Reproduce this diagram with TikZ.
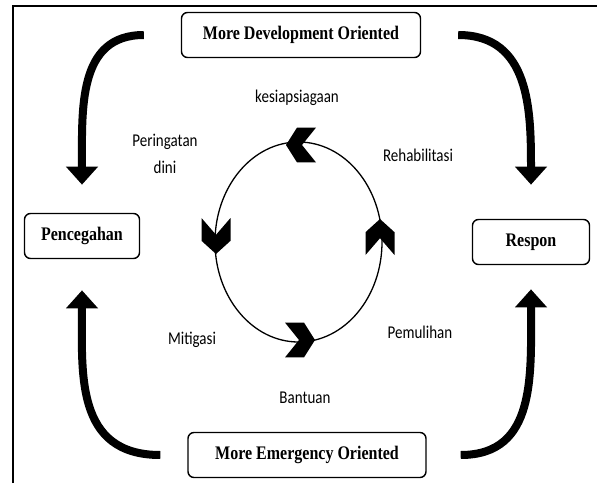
\documentclass[tikz,border=0pt]{standalone}
\usepackage{fontspec}
\setmainfont{Liberation Serif}
\newfontfamily\labelfont{Carlito}
\usetikzlibrary{arrows.meta}
\tikzstyle{phasebox}=[draw, line width=1.4pt, rounded corners=6pt, inner sep=0, yscale=1.2,
                      minimum height=37.5pt, font=\bfseries\fontsize{16}{18}\selectfont]
\tikzstyle{phaselabel}=[inner sep=0, align=center, yscale=1.2, font=\labelfont\fontsize{15}{22.5}\selectfont]
\tikzstyle{cyclearrow}=[line width=8pt, looseness=1.3, -{Triangle[width=31pt,length=18pt]}]
\tikzset{chevron/.pic={\fill (-15,0) -- (-4,-14.5) -- (15,-14.5) -- (1,0) -- (15,14.5) -- (-4,14.5) -- cycle;}}

\begin{document}
\begin{tikzpicture}[x=1pt, y=1pt]
        \useasboundingbox (0,0) rectangle (597,483);
        % frame
        \draw[line width=1.5pt] (13,0) -- (13,477) -- (597,477);
        \node[phasebox, minimum width=239pt] (dev)  at (301,448) {More Development Oriented};
        \node[phasebox, minimum width=238pt] (emg)  at (307,28)  {More Emergency Oriented};
        \node[phasebox, minimum width=115pt] (pen)  at (82,247)  {Pencegahan};
        \node[phasebox, minimum width=117pt] (resp) at (531,241) {Respon};
        \node[phaselabel] (kesiap) at (297,385)   {kesiapsiagaan};
        \node[phaselabel] (dini)   at (165,329.5) {Peringatan\\dini};
        \node[phaselabel] (rehab)  at (418,328)   {Rehabilitasi};
        \node[phaselabel] (miti)   at (192,143)   {Mitigasi};
        \node[phaselabel] (pemul)  at (420,151)   {Pemulihan};
        \node[phaselabel] (bantu)  at (305,85)    {Bantuan};
        % cycle
        \draw[line width=1.3pt] (298.5,241) ellipse [x radius=83.5, y radius=100];
        \pic[yscale=1.2, rotate=0]   at (301,338) {chevron};
        \pic[yscale=1.2, rotate=90]  at (216,247) {chevron};
        \pic[yscale=1.2, rotate=180] at (300,143) {chevron};
        \pic[yscale=1.2, rotate=-90] at (380,246) {chevron};
        % outer arrows
        \draw[cyclearrow, shorten <=37pt, shorten >=28pt] (dev) to[out=180, in=90] (pen);
        \draw[cyclearrow, shorten <=37pt, shorten >=34pt] (dev) to[out=0, in=90] (resp);
        \draw[cyclearrow, shorten <=27pt, shorten >=31pt] (emg) to[out=180, in=-90] (pen);
        \draw[cyclearrow, shorten <=34pt, shorten >=24pt] (emg) to[out=0, in=-90] (resp);
\end{tikzpicture}
\end{document}
